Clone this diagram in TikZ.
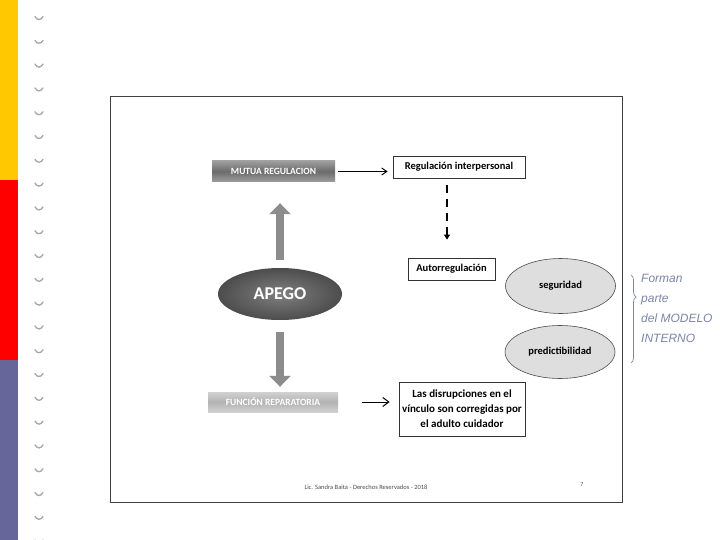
\documentclass[tikz,border=0pt]{standalone}
\usepackage{fontspec}
\setmainfont{Carlito}
\newfontfamily\handfont{Liberation Sans}
\usetikzlibrary{arrows.meta,shapes.geometric,decorations.pathreplacing}
\definecolor{barYellow}{HTML}{FFC800}
\definecolor{barRed}{HTML}{FF0000}
\definecolor{barBlue}{HTML}{66669A}
\definecolor{penBlue}{HTML}{7C86A6}
\tikzset{
  plainbox/.style={draw=black!80, line width=0.8pt, fill=white, font=\bfseries\fontsize{10.5}{12}\selectfont, inner sep=0pt, align=center},
  graybar/.style={inner sep=0pt, font=\bfseries\fontsize{9.5}{10}\selectfont, text=white},
  lightoval/.style={ellipse, draw=black!70, line width=0.6pt, fill=black!13, font=\bfseries\fontsize{10.5}{12}\selectfont, inner sep=0pt},
  bigarrow/.style={line width=8pt, draw=black!45, -{Triangle[width=21pt,length=11pt]}},
  thinarrow/.style={line width=1pt, -{Straight Barb[length=5pt,width=7pt]}},
  ring/.style={draw=black!35, line width=1.3pt, line cap=round},
}
\begin{document}
\begin{tikzpicture}[x=1pt,y=-1pt]
\useasboundingbox (0,0) rectangle (720,540);
\fill[white] (0,0) rectangle (720,540);
% left colour bar
\fill[barYellow] (0,0) rectangle (18,180);
\fill[barRed] (0,180) rectangle (18,360);
\fill[barBlue] (0,360) rectangle (18,540);
% spiral rings
\foreach \k in {0,...,22} {
  \pgfmathsetmacro{\yy}{18+23.8*\k}
  \draw[ring] (35,\yy-1.5) .. controls (37,\yy+2.5) and (41,\yy+2.5) .. (43,\yy-1.5);
}
% slide frame
\draw[black!75, line width=0.8pt] (110,96) rectangle (622,502);

% nodes
\node[graybar, minimum width=123pt, minimum height=21pt,
      top color=black!38, bottom color=black!38, middle color=black!58] (mutua) at (273.5,171.5) {MUTUA REGULACION};
\node[plainbox, minimum width=132pt, minimum height=22pt] (reg) at (459,167) {Regulación interpersonal};
\node[plainbox, minimum width=87pt, minimum height=22pt] (auto) at (451.5,269) {Autorregulación};
\node[ellipse, minimum width=124pt, minimum height=52pt, inner sep=0pt,
      inner color=black!50, outer color=black!70, text=white,
      font=\bfseries\fontsize{18}{20}\selectfont] (apego) at (280,294) {APEGO};
\node[graybar, minimum width=130pt, minimum height=20pt,
      top color=black!18, bottom color=black!18, middle color=black!30] (funcion) at (273,402) {FUNCIÓN REPARATORIA};
\node[plainbox, minimum width=126pt, minimum height=54pt,
      font=\bfseries\fontsize{11}{15}\selectfont] (disr) at (462,409) {Las disrupciones en el\\vínculo son corregidas por\\el adulto cuidador};
\node[lightoval, minimum width=110pt, minimum height=55pt] (seg) at (560.5,286) {seguridad};
\node[lightoval, minimum width=110pt, minimum height=53pt] (pred) at (560,352) {predictibilidad};

% footer
\node[font=\fontsize{6.5}{7}\selectfont, text=black!70] (footer) at (366,487) {Lic. Sandra Baita - Derechos Reservados - 2018};
\node[font=\fontsize{6}{7}\selectfont, text=black!70] (pagenum) at (582,485) {7};

% connectors
\draw[bigarrow, shorten <=8pt, shorten >=21pt] (apego.north) -- (apego.north |- mutua.south);
\draw[bigarrow, shorten <=12pt, shorten >=5pt] (apego.south) -- (apego.south |- funcion.north);
\draw[thinarrow, shorten <=3pt, shorten >=5pt] (mutua.east) -- (mutua.east -| reg.west);
\draw[line width=1.2pt, dash pattern=on 8pt off 6pt, -{Triangle[length=5pt,width=6pt]}, shorten <=7pt, shorten >=18pt]
  ([xshift=-4.5pt]auto.north |- reg.south) -- ([xshift=-4.5pt]auto.north);
\draw[line width=1pt, -{Straight Barb[length=6pt,width=9pt]}, shorten <=24pt, shorten >=9pt]
  (funcion.east) -- (funcion.east -| disr.west);

% handwritten note
\coordinate (bt) at (631,275);
\coordinate (bb) at (631,363);
\draw[penBlue, line width=0.7pt, decorate, decoration={brace, amplitude=5pt, aspect=0.25}] (bt) -- (bb);
\node[anchor=north west, text=penBlue, align=left, inner sep=0pt,
      font=\handfont\itshape\fontsize{12}{20}\selectfont] (note) at (641,274) {Forman\\parte\\del MODELO\\INTERNO};
\end{tikzpicture}
\end{document}
